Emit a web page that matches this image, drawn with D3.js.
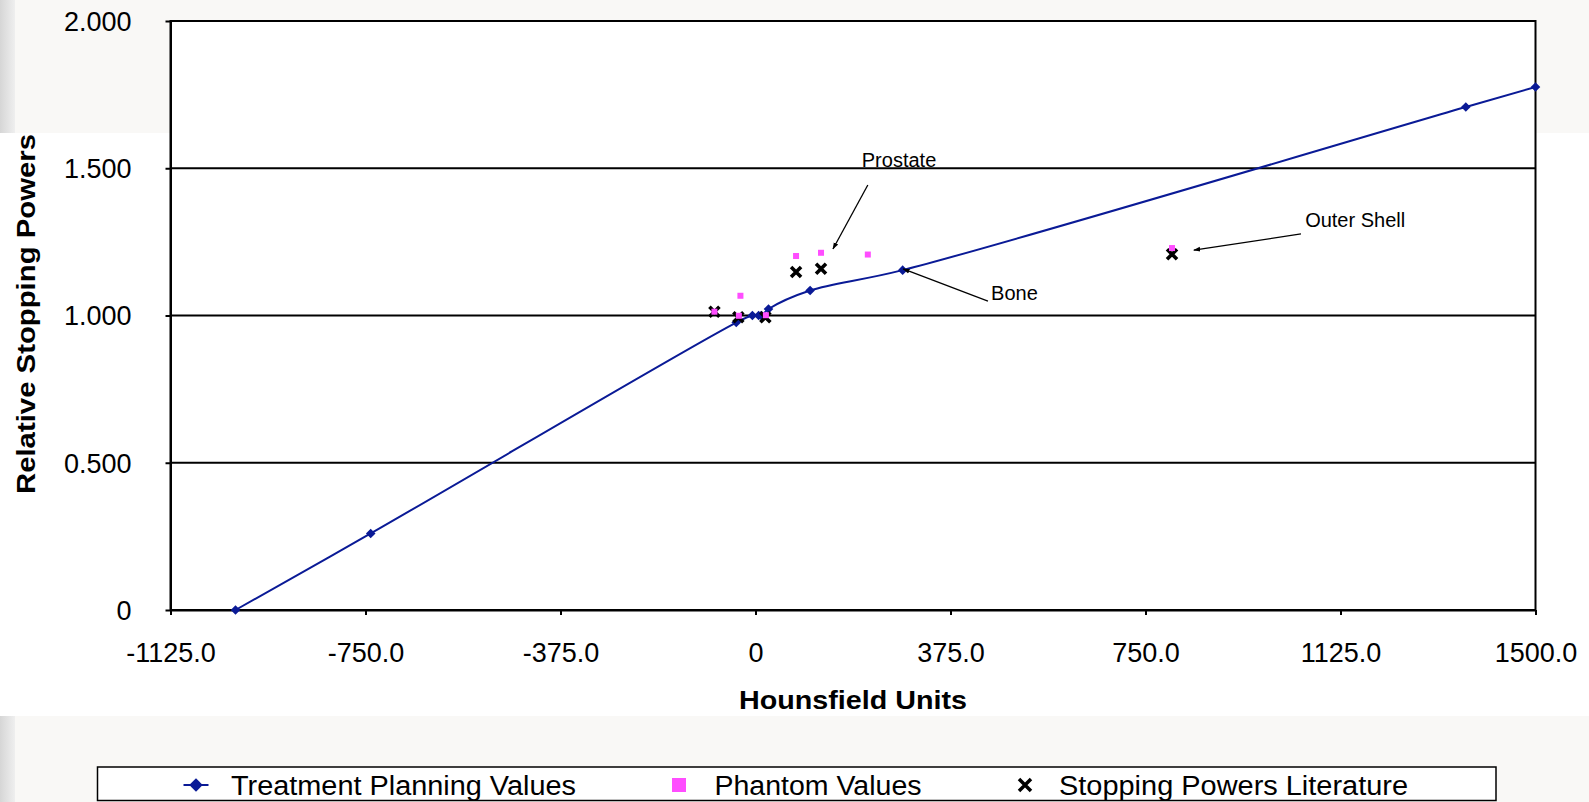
<!DOCTYPE html>
<html>
<head>
<meta charset="utf-8">
<script src="https://cdn.jsdelivr.net/npm/d3@7"></script>
<style>
html,body{margin:0;padding:0;background:#f9f8f6;}
svg{display:block;font-family:Arial,"Liberation Sans",Helvetica,sans-serif;}
</style>
</head>
<body>
<svg id="chart" width="1589" height="802"></svg>
<script>
// ---------- data ----------
const tpX = [-1000, -740, -37, -6, 6, 11, 25, 105, 283, 1366, 1500];
const tpY = [0.000, 0.260, 0.976, 1.000, 1.000, 1.000, 1.022, 1.085, 1.154, 1.708, 1.776];

const phX = [-79, -32, -29, 20, 78, 126, 216, 801];
const phY = [1.013, 0.999, 1.067, 1.001, 1.202, 1.213, 1.207, 1.229];

const litX = [-79, -33, 19, 78, 126, 801];
const litY = [1.013, 0.994, 0.994, 1.148, 1.159, 1.208];

const xTicks = [-1125, -750, -375, 0, 375, 750, 1125, 1500];
const yTicks = [0, 0.5, 1.0, 1.5, 2.0];

const seriesNames = ["Treatment Planning Values", "Phantom Values", "Stopping Powers Literature"];

const annLabels = ["Prostate", "Bone", "Outer Shell"];
const annTextX = [276, 453, 1057];
const annTextY = [1.504, 1.053, 1.300];
const annFromX = [216, 447, 1049];
const annFromY = [1.443, 1.049, 1.277];
const annToX = [149, 284, 843];
const annToY = [1.226, 1.158, 1.222];
const annAnchor = ["middle", "start", "start"];

// ---------- setup ----------
const svg = d3.select("#chart");
const W = 1589, H = 802;
const plot = {left: 170.5, right: 1535.5, top: 21, bottom: 610};

const x = d3.scaleLinear().domain([-1125, 1500]).range([plot.left, plot.right]);
const y = d3.scaleLinear().domain([0, 2]).range([plot.bottom, plot.top]);

// background: slide-like
const defs = svg.append("defs");
const g1 = defs.append("linearGradient").attr("id", "strip").attr("x1", 0).attr("x2", 1).attr("y1", 0).attr("y2", 0);
g1.append("stop").attr("offset", "0%").attr("stop-color", "#d6d6d6");
g1.append("stop").attr("offset", "100%").attr("stop-color", "#efefef");

svg.append("rect").attr("x", 0).attr("y", 0).attr("width", W).attr("height", H).attr("fill", "#f9f8f6");
svg.append("rect").attr("x", 0).attr("y", 0).attr("width", 15).attr("height", H).attr("fill", "url(#strip)");
svg.append("rect").attr("x", 0).attr("y", 133).attr("width", W).attr("height", 583).attr("fill", "#ffffff");

// plot area
svg.append("rect")
  .attr("x", plot.left).attr("y", plot.top)
  .attr("width", plot.right - plot.left).attr("height", plot.bottom - plot.top)
  .attr("fill", "#ffffff");

// gridlines
svg.append("g").selectAll("line").data(yTicks.filter(d => d > 0 && d < 2)).join("line")
  .attr("x1", plot.left).attr("x2", plot.right)
  .attr("y1", d => y(d)).attr("y2", d => y(d))
  .attr("stroke", "#000").attr("stroke-width", 2);

// border
svg.append("rect")
  .attr("x", plot.left).attr("y", plot.top)
  .attr("width", plot.right - plot.left).attr("height", plot.bottom - plot.top)
  .attr("fill", "none").attr("stroke", "#000").attr("stroke-width", 2);

const tickFont = 27;

// axes
const xAxis = d3.axisBottom(x).tickValues(xTicks).tickSizeInner(5).tickSizeOuter(0)
  .tickFormat(d => d === 0 ? "0" : d3.format(".1f")(d).replace("\u2212", "-"));
const gx = svg.append("g").attr("transform", `translate(0,${plot.bottom})`).call(xAxis);
gx.select(".domain").attr("stroke", "#000").attr("stroke-width", 2);
gx.selectAll(".tick line").attr("stroke", "#000").attr("stroke-width", 2);
gx.selectAll(".tick text").attr("font-size", tickFont).attr("font-family", "Arial, 'Liberation Sans', sans-serif")
  .attr("fill", "#000").attr("dy", null).attr("y", 52);

const yAxis = d3.axisLeft(y).tickValues(yTicks).tickSizeInner(5).tickSizeOuter(0)
  .tickFormat(d => d === 0 ? "0" : d3.format(".3f")(d));
const gy = svg.append("g").attr("transform", `translate(${plot.left},0)`).call(yAxis);
gy.select(".domain").attr("stroke", "#000").attr("stroke-width", 2);
gy.selectAll(".tick line").attr("stroke", "#000").attr("stroke-width", 2);
gy.selectAll(".tick text").attr("font-size", tickFont).attr("font-family", "Arial, 'Liberation Sans', sans-serif")
  .attr("fill", "#000").attr("x", -39).attr("dy", "0.35em");

// axis titles
svg.append("text")
  .attr("x", (plot.left + plot.right) / 2).attr("y", 709)
  .attr("text-anchor", "middle").attr("font-weight", "bold").attr("font-size", 26)
  .attr("textLength", 228).attr("lengthAdjust", "spacingAndGlyphs")
  .text("Hounsfield Units");

svg.append("text")
  .attr("transform", "translate(35,314) rotate(-90)")
  .attr("text-anchor", "middle").attr("font-weight", "bold").attr("font-size", 25)
  .attr("textLength", 360).attr("lengthAdjust", "spacingAndGlyphs")
  .text("Relative Stopping Powers");

// ---------- series ----------
const tp = tpX.map((v, i) => [v, tpY[i]]);
const ph = phX.map((v, i) => [v, phY[i]]);
const lit = litX.map((v, i) => [v, litY[i]]);

const blue = "#0a1a96";
const magenta = "#ff4dff";

const line = d3.line().x(d => x(d[0])).y(d => y(d[1])).curve(d3.curveCatmullRom.alpha(0.5));
svg.append("path").datum(tp).attr("d", line)
  .attr("fill", "none").attr("stroke", blue).attr("stroke-width", 2);

const diamond = d3.symbol().type(d3.symbolSquare).size(46);
svg.append("g").selectAll("path").data(tp).join("path")
  .attr("d", diamond)
  .attr("transform", d => `translate(${x(d[0])},${y(d[1])}) rotate(45)`)
  .attr("fill", blue);

// literature X markers
const xm = svg.append("g");
lit.forEach(d => {
  const cx = x(d[0]), cy = y(d[1]), r = 5;
  xm.append("path")
    .attr("d", `M${cx - r},${cy - r}L${cx + r},${cy + r}M${cx - r},${cy + r}L${cx + r},${cy - r}`)
    .attr("stroke", "#000").attr("stroke-width", 3.6).attr("fill", "none");
});

// phantom squares
svg.append("g").selectAll("rect").data(ph).join("rect")
  .attr("x", d => x(d[0]) - 3).attr("y", d => y(d[1]) - 3)
  .attr("width", 6).attr("height", 6).attr("fill", magenta);

// ---------- annotations ----------
defs.append("marker").attr("id", "arrow").attr("viewBox", "0 0 10 10")
  .attr("refX", 9).attr("refY", 5).attr("markerWidth", 7).attr("markerHeight", 7)
  .attr("markerUnits", "userSpaceOnUse").attr("orient", "auto")
  .append("path").attr("d", "M0,1.5L10,5L0,8.5Z").attr("fill", "#000");

const ann = svg.append("g");
annLabels.forEach((lab, i) => {
  ann.append("line")
    .attr("x1", x(annFromX[i])).attr("y1", y(annFromY[i]))
    .attr("x2", x(annToX[i])).attr("y2", y(annToY[i]))
    .attr("stroke", "#000").attr("stroke-width", 1.3)
    .attr("marker-end", "url(#arrow)");
  ann.append("text")
    .attr("x", x(annTextX[i])).attr("y", y(annTextY[i]))
    .attr("text-anchor", annAnchor[i]).attr("font-size", 20)
    .text(lab);
});

// ---------- legend ----------
const lg = svg.append("g");
lg.append("rect").attr("x", 97.5).attr("y", 767).attr("width", 1398.5).attr("height", 33.5)
  .attr("fill", "#fff").attr("stroke", "#000").attr("stroke-width", 1.5);
const ly = 785;
const legX = [183.5, 672, 1019];
const legTextX = [231, 714.5, 1059];
const legTextW = [345, 207, 349];

// item 1: line + diamond
lg.append("line").attr("x1", legX[0]).attr("x2", legX[0] + 25).attr("y1", ly).attr("y2", ly)
  .attr("stroke", blue).attr("stroke-width", 2);
lg.append("path").attr("d", d3.symbol().type(d3.symbolSquare).size(90))
  .attr("transform", `translate(${legX[0] + 12.5},${ly}) rotate(45)`).attr("fill", blue);
// item 2: square
lg.append("rect").attr("x", legX[1]).attr("y", ly - 7).attr("width", 14).attr("height", 14).attr("fill", magenta);
// item 3: X
{
  const cx = legX[2] + 6, r = 6;
  lg.append("path").attr("d", `M${cx - r},${ly - r}L${cx + r},${ly + r}M${cx - r},${ly + r}L${cx + r},${ly - r}`)
    .attr("stroke", "#000").attr("stroke-width", 3.5);
}
seriesNames.forEach((n, i) => {
  lg.append("text").attr("x", legTextX[i]).attr("y", ly).attr("dy", "0.36em")
    .attr("font-size", 27).attr("textLength", legTextW[i]).attr("lengthAdjust", "spacingAndGlyphs")
    .text(n);
});
</script>
</body>
</html>
